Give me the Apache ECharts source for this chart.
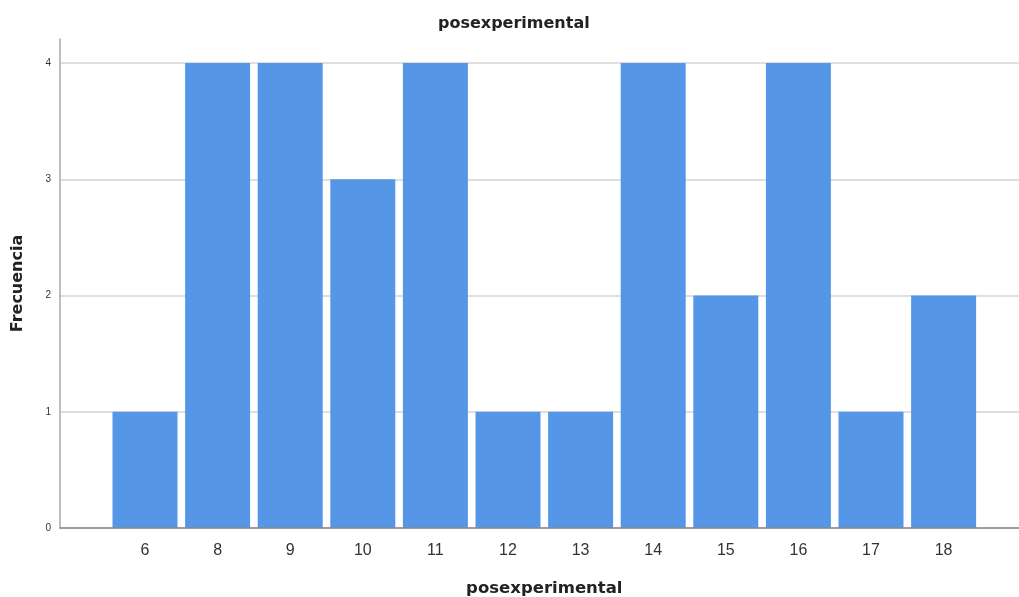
<!DOCTYPE html>
<html><head><meta charset="utf-8">
<script src="https://cdn.jsdelivr.net/npm/echarts@6/dist/echarts.min.js"></script>
<style>html,body{margin:0;padding:0;background:#fff}#c{width:1019px;height:597px}</style>
</head><body><div id="c"></div>
<script>
const categories = ['6','8','9','10','11','12','13','14','15','16','17','18'];
const frecuencia = [1,4,4,3,4,1,1,4,2,4,1,2];
const yTicks = [0,1,2,3,4];
const titleText = 'posexperimental';
const xName = 'posexperimental';
const yName = 'Frecuencia';

const chart = echarts.init(document.getElementById('c'), null, {renderer:'canvas'});
const font = 'Arial, "Liberation Sans", sans-serif';
const boldFont = '"DejaVu Sans", sans-serif';
chart.setOption({
  animation:false,
  backgroundColor:'#fff',
  title:{text:titleText,left:433,top:11,textStyle:{fontFamily:boldFont,fontSize:16,fontWeight:'bold',color:'#222'}},
  grid:[
    {left:60,right:0,top:63,bottom:69,outerBoundsMode:'none',containLabel:false},
    {left:60,width:1,top:39,bottom:69,outerBoundsMode:'none',containLabel:false},
    {left:108.7,right:39.1,top:63,bottom:69,outerBoundsMode:'none',containLabel:false}
  ],
  xAxis:[
    {gridIndex:0,type:'value',min:0,max:1,axisLine:{show:true,lineStyle:{color:'#888',width:1.5}},axisTick:{show:false},axisLabel:{show:false},splitLine:{show:false},z:5},
    {gridIndex:1,type:'value',show:false},
    {gridIndex:2,type:'category',data:categories,axisLine:{show:false},axisTick:{show:false},
     axisLabel:{margin:15,fontFamily:font,fontSize:16,color:'#333'},
     name:xName,nameLocation:'middle',nameGap:52,nameTextStyle:{fontFamily:boldFont,fontSize:16.5,fontWeight:'bold',color:'#222'}}
  ],
  yAxis:[
    {gridIndex:0,type:'value',min:0,max:4,interval:1,axisLine:{show:false},axisTick:{show:false},
     axisLabel:{margin:9,fontFamily:font,fontSize:10,color:'#333'},
     splitLine:{show:true,lineStyle:{color:'#d4d4d4',width:1.5}}},
    {gridIndex:1,type:'value',min:0,max:1,axisLine:{show:true,lineStyle:{color:'#aaa',width:1.5}},axisTick:{show:false},axisLabel:{show:false},splitLine:{show:false},
     name:yName,nameLocation:'middle',nameGap:34,nameRotate:90,nameTextStyle:{fontFamily:boldFont,fontSize:16,fontWeight:'bold',color:'#222'}},
    {gridIndex:2,type:'value',min:0,max:4,interval:1,show:false}
  ],
  series:[{
    type:'bar',xAxisIndex:2,yAxisIndex:2,data:frecuencia,barWidth:65,
    itemStyle:{color:'#5596e6',borderWidth:0}
  }]
});
</script></body></html>
